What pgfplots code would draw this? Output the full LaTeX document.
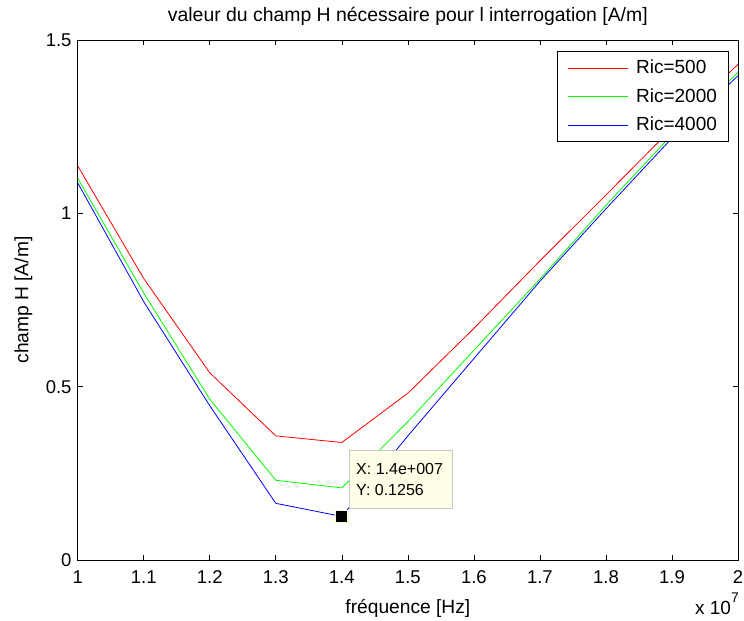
\documentclass[border=0pt]{standalone}
\usepackage{fontspec}
\setmainfont{Liberation Sans}
\usepackage{pgfplots}
\pgfplotsset{compat=1.18}
\definecolor{tipbg}{RGB}{255,255,232}
\definecolor{tipedge}{RGB}{200,200,200}
\definecolor{mkedge}{RGB}{250,250,205}
\definecolor{cr}{RGB}{255,0,0}
\definecolor{cg}{RGB}{0,255,0}
\definecolor{cb}{RGB}{0,0,255}
\begin{document}
\begin{tikzpicture}
\useasboundingbox (-77.7bp,-61bp) rectangle (666.3bp,560bp);
\begin{axis}[name=ax,
  width=660.3bp, height=520bp, scale only axis,
  xmin=1, xmax=2, ymin=0, ymax=1.5,
  xtick={1,1.1,1.2,1.3,1.4,1.5,1.6,1.7,1.8,1.9,2},
  xticklabels={1,1.1,1.2,1.3,1.4,1.5,1.6,1.7,1.8,1.9,2},
  ytick={0,0.5,1,1.5},
  yticklabels={0,0.5,1,1.5},
  tick align=inside, major tick length=5bp,
  tick style={draw=black, line width=0.6bp},
  axis line style={draw=black, line width=0.9bp},
  xticklabel style={anchor=base, inner sep=0pt, yshift=-23bp, font=\fontsize{18.5bp}{20bp}\selectfont},
  yticklabel style={anchor=east, inner sep=0pt, xshift=-6bp, font=\fontsize{18.5bp}{20bp}\selectfont},
  title={valeur du champ H nécessaire pour l interrogation [A/m]},
  title style={at={(axis description cs:0.5,1)}, anchor=base, yshift=13bp, inner sep=0pt, font=\fontsize{19.4bp}{22bp}\selectfont},
  xlabel={fréquence [Hz]},
  xlabel style={at={(axis description cs:0.5,0)}, anchor=base, yshift=-53bp, inner sep=0pt, font=\fontsize{19.2bp}{22bp}\selectfont},
  ylabel={champ H [A/m]},
  ylabel style={at={(axis description cs:-0.0748,0.5)}, anchor=base, inner sep=0pt, font=\fontsize{19.2bp}{22bp}\selectfont},
]
\addplot[draw=cr, line width=0.8bp] coordinates {
(1.0,1.137) (1.1,0.812) (1.2,0.540) (1.3,0.358) (1.4,0.339) (1.5,0.481)
(1.6,0.668) (1.7,0.863) (1.8,1.053) (1.9,1.245) (2.0,1.430)};
\addplot[draw=cg, line width=0.8bp] coordinates {
(1.0,1.101) (1.1,0.770) (1.2,0.464) (1.3,0.230) (1.4,0.208) (1.5,0.399)
(1.6,0.605) (1.7,0.810) (1.8,1.023) (1.9,1.227) (2.0,1.406)};
\addplot[draw=cb, line width=0.8bp] coordinates {
(1.0,1.088) (1.1,0.745) (1.2,0.445) (1.3,0.1635) (1.4,0.1256) (1.5,0.358)
(1.6,0.581) (1.7,0.804) (1.8,1.013) (1.9,1.217) (2.0,1.397)};
\addplot[only marks, mark=square*, mark size=6.2bp,
  mark options={fill=black, draw=mkedge, line width=1.5bp}] coordinates {(1.4,0.1256)};
\node[anchor=north west, draw=tipedge, fill=tipbg, line width=0.8bp, minimum width=103.3bp, minimum height=57.7bp, inner sep=0pt] at (axis cs:1.4109,0.3173) {};
\node[anchor=base west, inner sep=0pt, font=\fontsize{16bp}{18bp}\selectfont] at (axis cs:1.4215,0.2452) {X: 1.4e+007};
\node[anchor=base west, inner sep=0pt, font=\fontsize{16bp}{18bp}\selectfont] at (axis cs:1.4215,0.1855) {Y: 0.1256};
\end{axis}
\node[name=leg, anchor=north east, draw=black, line width=0.9bp, fill=white, inner xsep=11.35bp, inner ysep=2.2bp,
  font=\fontsize{19bp}{28.7bp}\selectfont] at ([xshift=-9.3bp,yshift=-10.7bp]ax.north east)
  {\begin{tabular}{@{}l@{\hspace{7.7bp}}l@{}}
   \rule{60bp}{0bp} & Ric=500\\
   \rule{60bp}{0bp} & Ric=2000\\
   \rule{60bp}{0bp} & Ric=4000
   \end{tabular}};
\draw[cr, line width=1.1bp] ([xshift=11.35bp,yshift=-17.5bp]leg.north west) -- ++(60bp,0bp);
\draw[cg, line width=1.1bp] ([xshift=11.35bp,yshift=-46.2bp]leg.north west) -- ++(60bp,0bp);
\draw[cb, line width=1.1bp] ([xshift=11.35bp,yshift=-74.9bp]leg.north west) -- ++(60bp,0bp);
\node[anchor=base east, inner sep=0pt, font=\fontsize{19bp}{22bp}\selectfont] at ([xshift=1bp,yshift=-54bp]ax.south east) {x 10\raisebox{12bp}{\fontsize{14bp}{14bp}\selectfont 7}};
\end{tikzpicture}
\end{document}
